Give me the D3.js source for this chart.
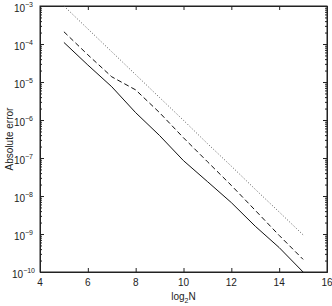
<!DOCTYPE html>
<html>
<head>
<meta charset="utf-8">
<script src="https://cdn.jsdelivr.net/npm/d3@7"></script>
<style>
  body { margin: 0; background: #fff; }
  svg { display: block; }
  text { font-family: "Liberation Sans", Arial, sans-serif; fill: #222; }
  .axis path, .axis line { stroke: #222; }
</style>
</head>
<body>
<svg width="332" height="306"></svg>
<script>
// **** data ****
var log2N = [5, 6, 7, 8, 9, 10, 11, 12, 13, 14, 15];
var errSolid  = [1.1e-4, 2.8e-5, 7.5e-6, 1.56e-6, 3.9e-7, 8.5e-8, 2.4e-8, 6.7e-9, 1.6e-9, 4.4e-10, 1.0e-10];
var errDashed = [2.1e-4, 5.2e-5, 1.37e-5, 6.2e-6, 1.56e-6, 3.4e-7, 8.0e-8, 1.9e-8, 4.2e-9, 9.2e-10, 2.15e-10];
var errRef    = [1.0e-3, 2.5e-4, 6.25e-5, 1.56e-5, 3.9e-6, 9.8e-7, 2.4e-7, 6.1e-8, 1.5e-8, 3.8e-9, 9.5e-10];
var xTicks = [4, 6, 8, 10, 12, 14, 16];
var yExponents = [-3, -4, -5, -6, -7, -8, -9, -10];

// **** scales ****
var pLeft = 40, pRight = 327, pTop = 6, pBottom = 272;
var x = d3.scaleLinear().domain([4, 16]).range([pLeft, pRight]);
var y = d3.scaleLog().domain([1e-10, 1e-3]).range([pBottom, pTop]);

var svg = d3.select('svg');

var minor = [];
for (var e = -10; e < -3; e++) {
    for (var m = 2; m <= 9; m++) minor.push(m * Math.pow(10, e));
}
var major = yExponents.map(function(p) { return Math.pow(10, p); });

// minor ticks, left and right
svg.append('g').attr('class', 'axis')
    .attr('transform', 'translate(' + pLeft + ',0)')
    .call(d3.axisLeft(y).tickValues(minor).tickSize(-2).tickSizeOuter(0).tickFormat(''));
svg.append('g').attr('class', 'axis')
    .attr('transform', 'translate(' + pRight + ',0)')
    .call(d3.axisRight(y).tickValues(minor).tickSize(-2).tickSizeOuter(0).tickFormat(''));

// major y ticks with 10^n labels
svg.append('g').attr('class', 'axis')
    .attr('transform', 'translate(' + pLeft + ',0)')
    .call(d3.axisLeft(y).tickValues(major).tickSize(-4).tickSizeOuter(0).tickFormat(''));
svg.append('g').attr('class', 'axis')
    .attr('transform', 'translate(' + pRight + ',0)')
    .call(d3.axisRight(y).tickValues(major).tickSize(-4).tickSizeOuter(0).tickFormat(''));

var yLab = svg.append('g');
yExponents.forEach(function(p) {
    var t = yLab.append('text')
        .attr('x', p === -10 ? 35 : 33)
        .attr('y', y(Math.pow(10, p)) + 6)
        .attr('text-anchor', 'end')
        .style('font-size', '10px');
    t.append('tspan').text('10');
    t.append('tspan').attr('dy', -5).style('font-size', '7px').text(String(p).replace('-', '\u2212'));
});

// x ticks bottom and top
svg.append('g').attr('class', 'axis')
    .attr('transform', 'translate(0,' + pBottom + ')')
    .call(d3.axisBottom(x).tickValues(xTicks).tickSize(-4).tickSizeOuter(0).tickFormat(''));
svg.append('g').attr('class', 'axis')
    .attr('transform', 'translate(0,' + pTop + ')')
    .call(d3.axisTop(x).tickValues(xTicks).tickSize(-4).tickSizeOuter(0).tickFormat(''));

svg.selectAll('.xlab')
    .data(xTicks)
    .enter()
    .append('text')
    .attr('class', 'xlab')
    .attr('x', function(d) { return x(d); })
    .attr('y', 286)
    .attr('text-anchor', 'middle')
    .style('font-size', '10px')
    .text(function(d) { return d; });

// frame
svg.append('rect')
    .attr('x', pLeft).attr('y', pTop)
    .attr('width', pRight - pLeft).attr('height', pBottom - pTop)
    .attr('fill', 'none').attr('stroke', '#222');

// axis titles
var xt = svg.append('text')
    .attr('x', (pLeft + pRight) / 2)
    .attr('y', 300)
    .attr('text-anchor', 'middle')
    .style('font-size', '10px');
xt.append('tspan').text('log');
xt.append('tspan').attr('dy', 3).style('font-size', '7px').text('2');
xt.append('tspan').attr('dy', -3).text('N');

svg.append('text')
    .attr('transform', 'rotate(-90)')
    .attr('x', -(pTop + pBottom) / 2)
    .attr('y', 13)
    .attr('text-anchor', 'middle')
    .style('font-size', '10px')
    .text('Absolute error');

// **** lines ****
var line = d3.line()
    .x(function(d) { return x(d[0]); })
    .y(function(d) { return y(d[1]); });

function addLine(vals, dash, color) {
    svg.append('path')
        .datum(log2N.map(function(n, i) { return [n, vals[i]]; }))
        .attr('d', line)
        .attr('fill', 'none')
        .attr('stroke', color)
        .attr('stroke-width', 1)
        .attr('stroke-dasharray', dash);
}

addLine(errRef, '1,2', '#555');
addLine(errDashed, '5,3', '#111');
addLine(errSolid, null, '#111');
</script>
</body>
</html>
